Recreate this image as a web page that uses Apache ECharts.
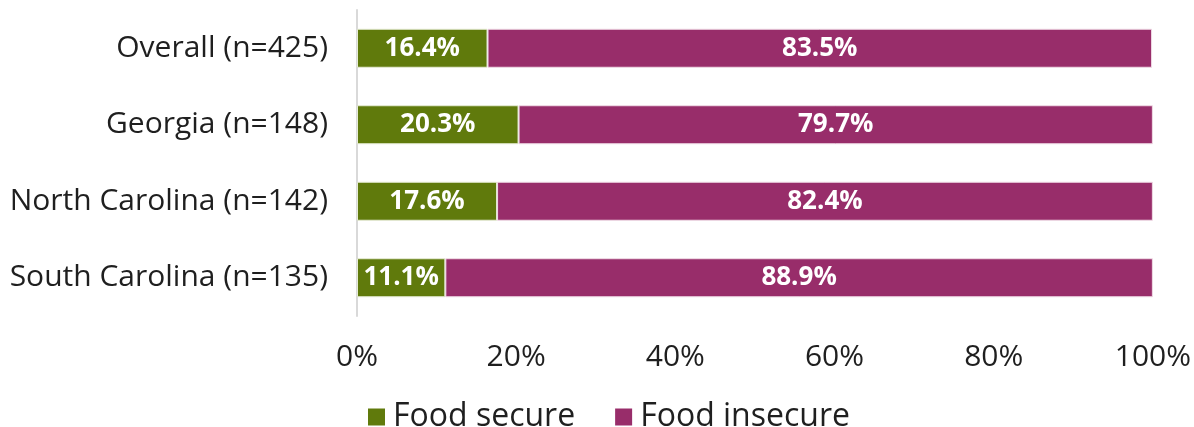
<!DOCTYPE html>
<html>
<head>
<meta charset="utf-8">
<script src="https://cdn.jsdelivr.net/npm/echarts@6/dist/echarts.min.js"></script>
<style>
  html, body { margin: 0; padding: 0; background: #ffffff; }
  #chart { width: 1194px; height: 427px; }
</style>
</head>
<body>
<div id="chart"></div>
<script>
// Food security status by state
const categories = ['Overall (n=425)', 'Georgia (n=148)', 'North Carolina (n=142)', 'South Carolina (n=135)'];
const foodSecure = [16.4, 20.3, 17.6, 11.1];
const foodInsecure = [83.5, 79.7, 82.4, 88.9];
const xTicks = [0, 20, 40, 60, 80, 100];

const FONT = '"Open Sans"';
const TEXT = '#1f1f1f';
const chart = echarts.init(document.getElementById('chart'));

const barLabel = {
  show: true,
  position: 'inside',
  color: '#ffffff',
  fontFamily: FONT,
  fontWeight: 'bold',
  fontSize: 26,
  formatter: p => p.value.toFixed(1) + '%'
};

chart.setOption({
  animation: false,
  grid: { left: 357, right: 41, top: 10, bottom: 111, containLabel: false },
  legend: {
    top: 396,
    left: 363,
    itemWidth: 17,
    itemHeight: 17,
    itemGap: 40,
    icon: 'rect',
    itemStyle: { borderWidth: 0 },
    textStyle: { fontFamily: FONT, fontSize: 32, color: TEXT, padding: [0, 0, 0, 3] },
    data: ['Food secure', 'Food insecure']
  },
  xAxis: {
    type: 'value',
    min: xTicks[0],
    max: xTicks[xTicks.length - 1],
    interval: 20,
    axisLine: { show: false },
    axisTick: { show: false },
    splitLine: { show: false },
    axisLabel: {
      fontFamily: FONT, fontSize: 30, color: TEXT, margin: 26,
      formatter: v => v + '%'
    }
  },
  yAxis: {
    type: 'category',
    inverse: true,
    data: categories,
    axisLine: { show: true, lineStyle: { color: '#d9d9d9', width: 2 } },
    axisTick: { show: false },
    axisLabel: { fontFamily: FONT, fontSize: 30, color: TEXT, margin: 29 }
  },
  series: [
    {
      name: 'Food secure',
      type: 'bar',
      stack: 'total',
      barWidth: '51%',
      data: foodSecure,
      itemStyle: { color: '#607a0c', borderColor: '#e6ecd6', borderWidth: 1 },
      label: barLabel
    },
    {
      name: 'Food insecure',
      type: 'bar',
      stack: 'total',
      barWidth: '51%',
      data: foodInsecure,
      itemStyle: { color: '#982d6a', borderColor: '#f0dbe6', borderWidth: 1 },
      label: barLabel
    }
  ]
});
</script>
</body>
</html>
